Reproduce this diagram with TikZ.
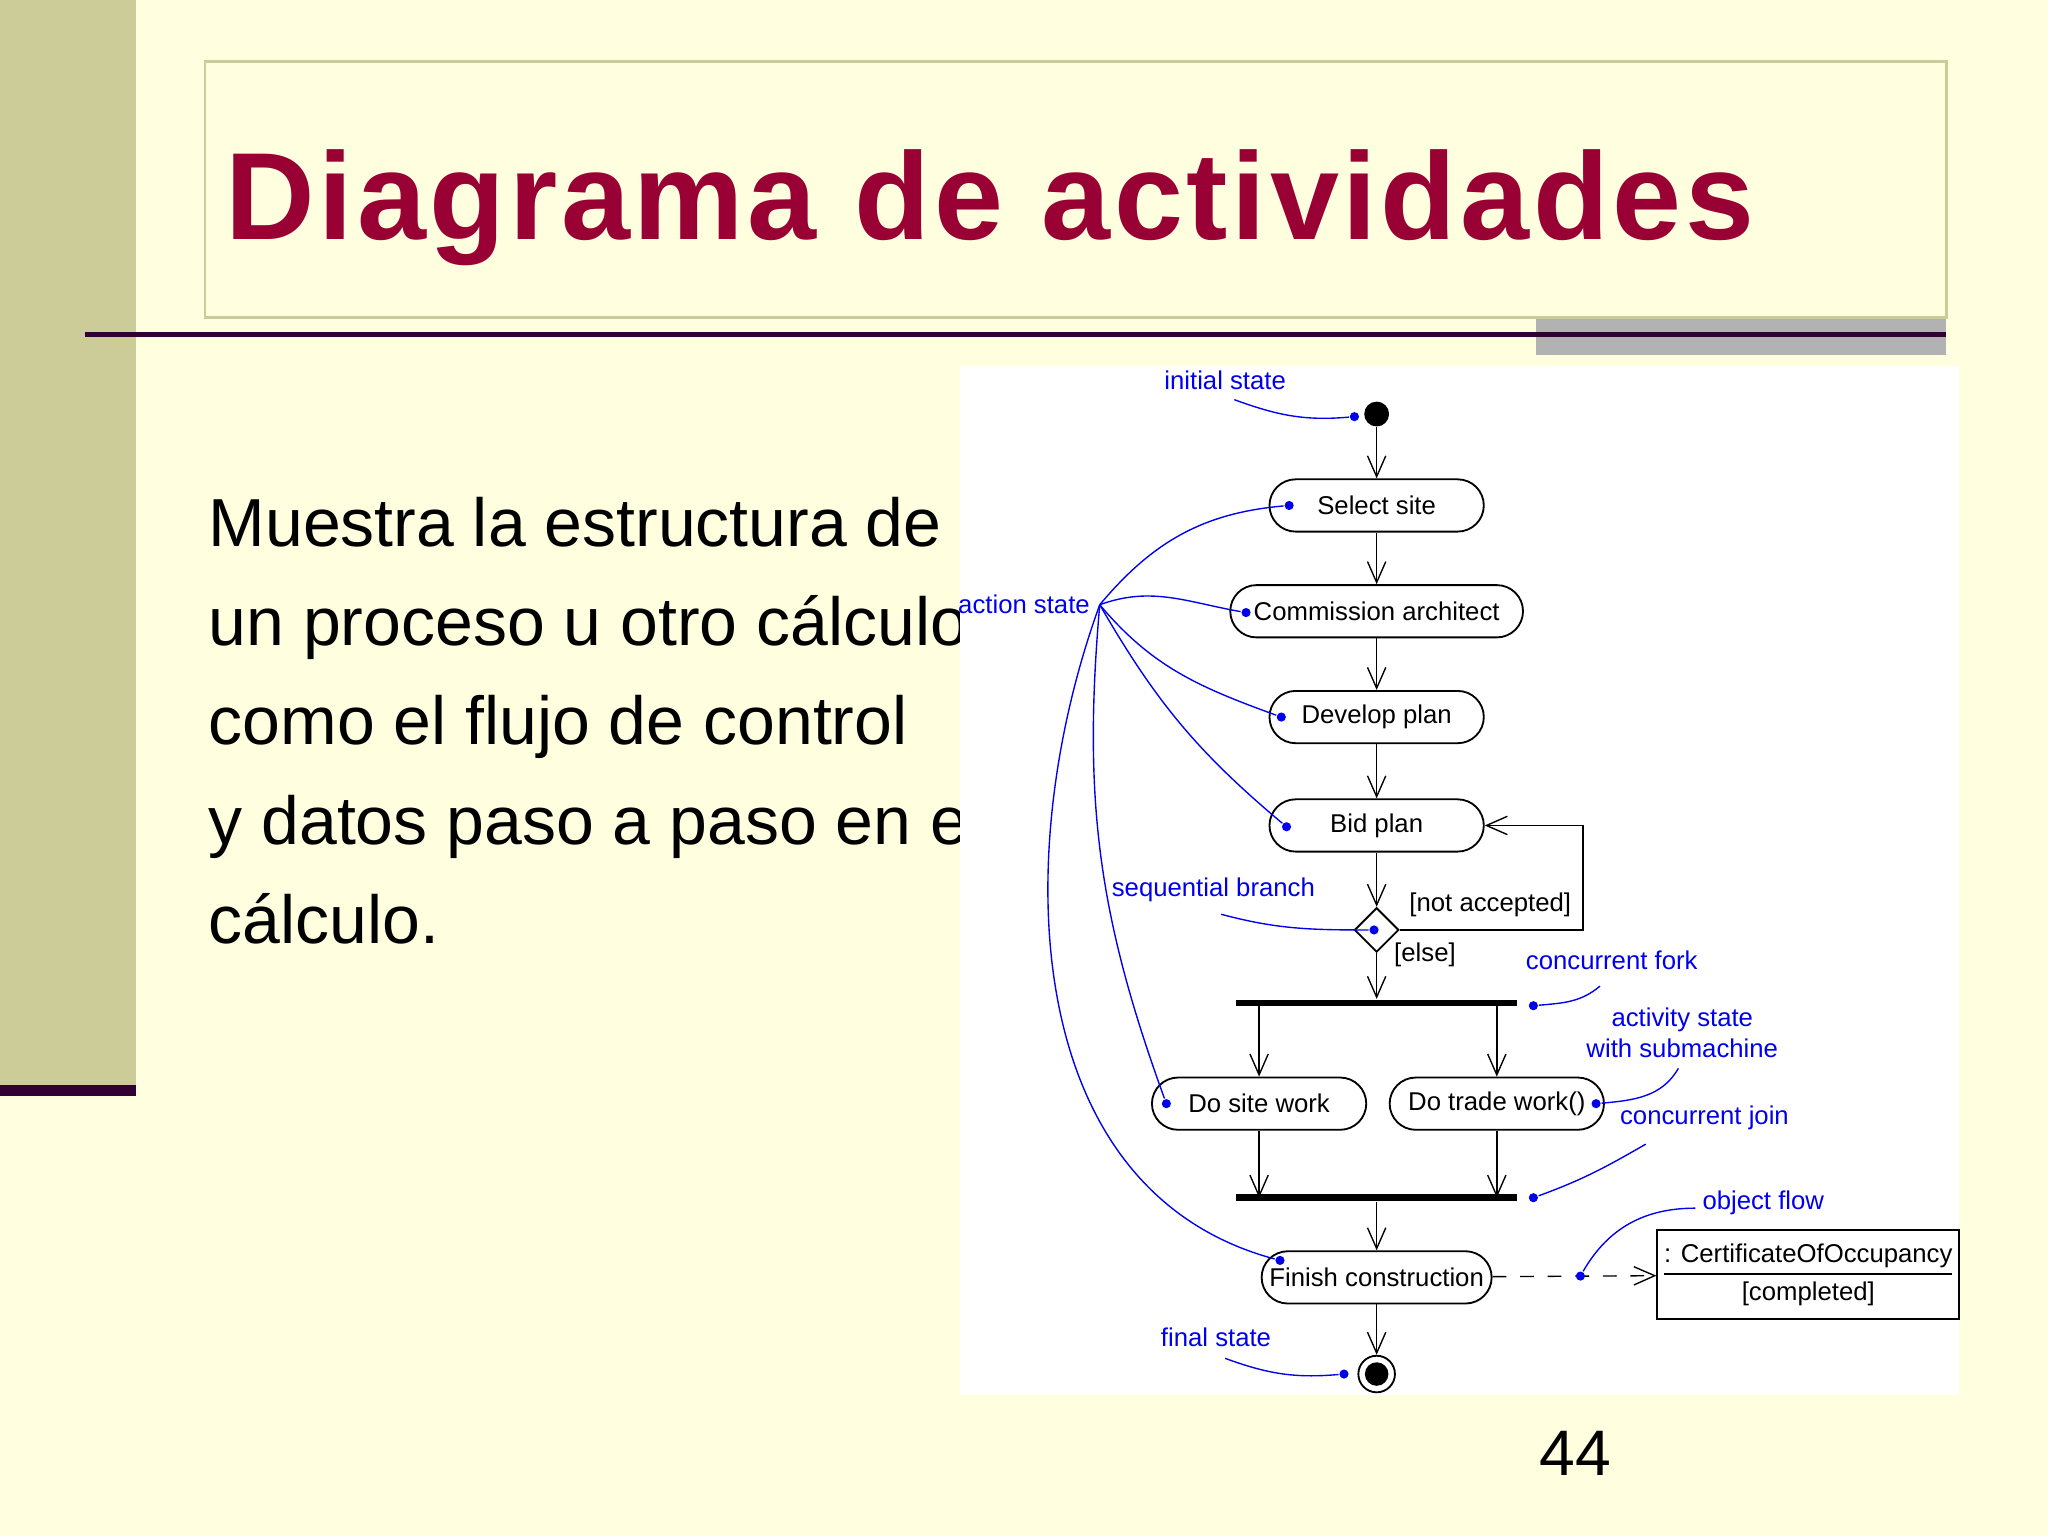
\documentclass[tikz,border=0pt]{standalone}
\usepackage{fontspec}
\setmainfont{Liberation Sans}
\usetikzlibrary{arrows.meta,shapes.geometric}
\definecolor{bg}{HTML}{FFFFE0}
\definecolor{olive}{HTML}{CCCC99}
\definecolor{plum}{HTML}{330033}
\definecolor{titlered}{HTML}{990033}
\definecolor{ann}{HTML}{0000EE}
\begin{document}
\begin{tikzpicture}[x=0.01cm,y=-0.01cm,
  act/.style={draw,rounded corners=0.2cm,minimum height=0.4cm,font=\fontsize{5.6}{6.5}\selectfont,inner sep=1pt},
  flow/.style={draw,-{Straight Barb[length=0.16cm,width=0.14cm]},line width=0.3pt},
  bar/.style={fill=black,minimum height=0.05cm,inner sep=0pt},
  note/.style={text=ann,font=\fontsize{5.6}{6.8}\selectfont,align=center,inner sep=0pt},
  anl/.style={draw=ann,line width=0.3pt},
  adot/.style={circle,fill=ann,inner sep=0pt,minimum size=0.07cm}]
\fill[bg] (0,0) rectangle (1568,1176);
\useasboundingbox (0,0) rectangle (1568,1176);
\fill[olive] (0,0) rectangle (104,835);
\fill[plum] (0,831) rectangle (104,839);
\draw[olive,line width=0.6pt] (157,47) rectangle (1490,243);
\fill[black!30] (1176,244) rectangle (1490,272);
\draw[plum,line width=1.2pt] (65,256) -- (1490,256);
\node[anchor=base west,text=titlered,font=\fontsize{27}{30}\bfseries\addfontfeatures{LetterSpace=3},inner sep=0pt] (title) at (172,183) {Diagrama de actividades};
\begin{scope}
\clip (150,330) rectangle (735,760);
\node[anchor=north west,align=left,font=\fontsize{14.8}{21.6}\selectfont,inner sep=0pt] (body) at (159,380) {Muestra la estructura de un\\un proceso u otro cálculo así\\como el flujo de control\\y datos paso a paso en el\\cálculo.};
\end{scope}
\node[anchor=base,font=\fontsize{14}{16}\selectfont,inner sep=0pt] (pg) at (1206,1130) {44};
\fill[white] (735,280) rectangle (1500,1068);
% nodes
\node[circle,fill=black,minimum size=0.19cm,inner sep=0pt] (init) at (1054,317) {};
\node[act,minimum width=1.64cm] (s1) at (1054,387) {Select site};
\node[act,minimum width=2.24cm] (s2) at (1054,468) {Commission architect};
\node[act,minimum width=1.64cm] (s3) at (1054,549) {Develop plan};
\node[act,minimum width=1.64cm] (s4) at (1054,632) {Bid plan};
\node[diamond,draw,minimum size=0.34cm,inner sep=0pt,line width=0.4pt] (d) at (1054,712) {};
\node[bar,minimum width=2.15cm] (fork) at (1054,768) {};
\node[act,minimum width=1.64cm] (sw) at (964,845) {Do site work};
\node[act,minimum width=1.64cm] (tw) at (1146,845) {Do trade work()};
\node[bar,minimum width=2.15cm] (join) at (1054,917) {};
\node[act,minimum width=1.76cm] (fin) at (1054,978) {Finish construction};
\node[circle,draw,minimum size=0.28cm,inner sep=0pt] (final) at (1054,1052) {};
\fill (final.center) circle (0.09cm);
\node[draw,minimum width=2.31cm,minimum height=0.68cm,align=center,font=\fontsize{5.6}{6.6}\selectfont,inner sep=1pt] (cert) at (1384.5,976) {\underline{: CertificateOfOccupancy}\\{[completed]}};
% flows
\draw[flow] (init) -- (s1);
\draw[flow] (s1) -- (s2);
\draw[flow] (s2) -- (s3);
\draw[flow] (s3) -- (s4);
\draw[flow] (s4) -- (d);
\draw[flow] (d.east) -| (1212,632) -- (s4.east);
\draw[flow] (d) -- (fork);
\draw[flow] (964,768) -- (sw);
\draw[flow] (1146,768) -- (tw);
\draw[flow] (sw) -- (964,917);
\draw[flow] (tw) -- (1146,917);
\draw[flow] (join) -- (fin);
\draw[flow] (fin) -- (final);
\draw[flow,dashed] (fin) -- (cert);
\node[font=\fontsize{5.6}{6.5}\selectfont,inner sep=0pt] (na) at (1141,693) {[not accepted]};
\node[font=\fontsize{5.6}{6.5}\selectfont,inner sep=0pt] (el) at (1091,731) {[else]};
% annotations
\node[note] (n1) at (938,291) {initial state};
\node[adot] (a1) at (1037,319) {};
\draw[anl] (945,306) to[out=-20,in=185] (a1);
\node[note] (n2) at (784,463) {action state};
\coordinate (as) at (842,463);
\node[adot] (b1) at (987,387) {};
\node[adot] (b2) at (954,469) {};
\node[adot] (b3) at (981,549) {};
\node[adot] (b4) at (985,633) {};
\node[adot] (b5) at (893,845) {};
\node[adot] (b6) at (980,965) {};
\draw[anl] (as) to[out=50,in=185] (b1);
\draw[anl] (as) to[out=20,in=170] (b2);
\draw[anl] (as) to[out=-50,in=160] (b3);
\draw[anl] (as) to[out=-60,in=140] (b4);
\draw[anl] (as) to[out=-95,in=110] (b5);
\draw[anl] (as) to[out=-110,in=165] (b6);
\node[note] (n3) at (929,681) {sequential branch};
\node[adot] (c1) at (1052,712) {};
\draw[anl] (935,700) to[out=-15,in=180] (c1);
\node[note] (n4) at (1234,735) {concurrent fork};
\node[adot] (c2) at (1174,770) {};
\draw[anl] (1225,755) to[out=-140,in=5] (c2);
\node[note] (n5) at (1288,791) {activity state\\with submachine};
\node[adot] (c3) at (1222,845) {};
\draw[anl] (1285,818) to[out=-120,in=5] (c3);
\node[note] (n6) at (1305,856) {concurrent join};
\node[adot] (c4) at (1174,917) {};
\draw[anl] (1260,876) to[out=-150,in=20] (c4);
\node[note] (n7) at (1350,921) {object flow};
\node[adot] (c5) at (1210,977) {};
\draw[anl] (1298,925) to[out=180,in=60] (c5);
\node[note] (n8) at (931,1024) {final state};
\node[adot] (c6) at (1029,1052) {};
\draw[anl] (938,1040) to[out=-20,in=185] (c6);
\end{tikzpicture}
\end{document}
